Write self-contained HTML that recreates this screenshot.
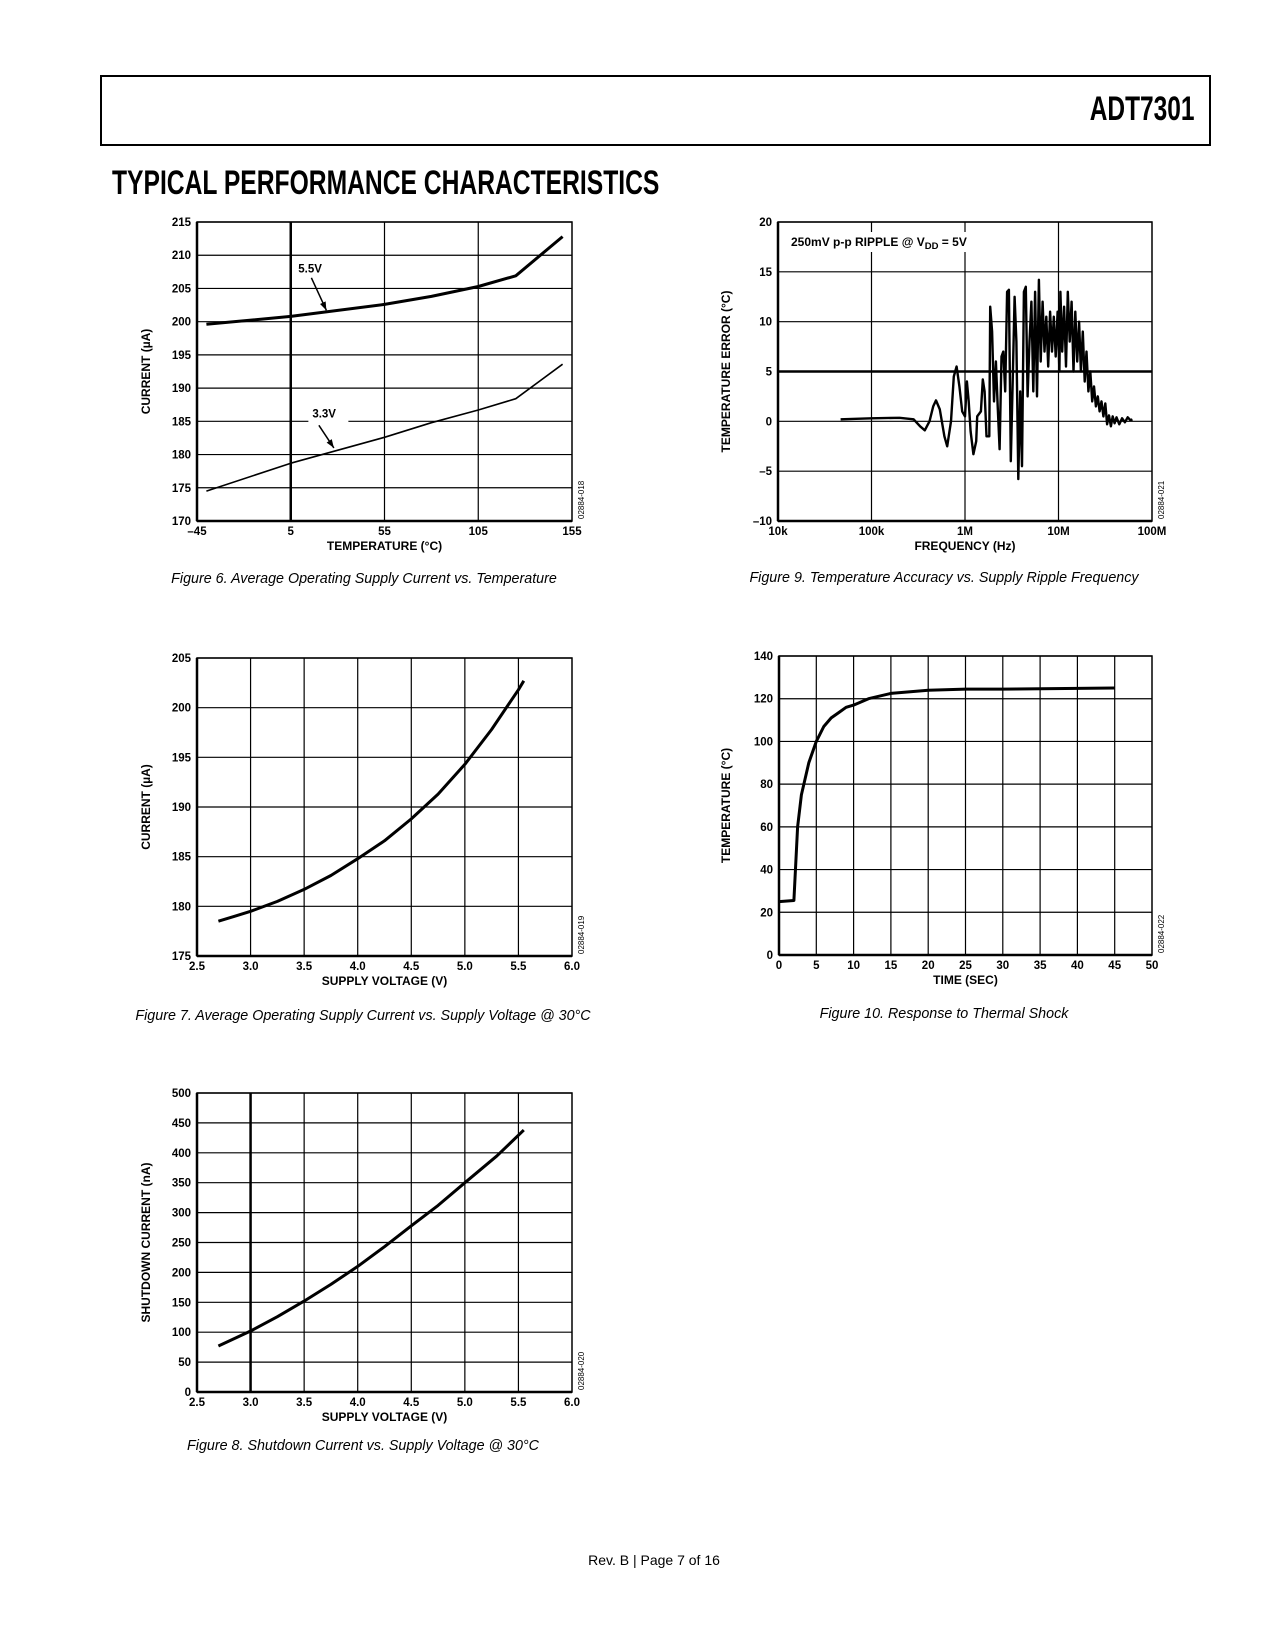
<!DOCTYPE html>
<html><head><meta charset="utf-8"><style>
html,body{margin:0;padding:0;background:#fff;}
body{width:1275px;height:1650px;position:relative;overflow:hidden;font-family:"Liberation Sans",sans-serif;}
.hdr{position:absolute;left:100px;top:75px;width:1111px;height:71px;border:2px solid #000;box-sizing:border-box;}
.pn{position:absolute;right:14px;top:13px;font-size:34px;font-weight:bold;transform:scaleX(0.72);transform-origin:right top;letter-spacing:0px;}
.ttl{position:absolute;left:112px;top:164px;font-size:34px;font-weight:bold;transform:scaleX(0.725);transform-origin:left top;white-space:nowrap;}
.cap{position:absolute;font-style:italic;font-size:14.3px;white-space:nowrap;transform:translateX(-50%);}
.foot{position:absolute;left:654px;top:1552px;font-size:14px;transform:translateX(-50%);white-space:nowrap;}
svg text{font-family:"Liberation Sans",sans-serif;}
</style></head><body>
<div class="hdr"><div class="pn">ADT7301</div></div>
<div class="ttl">TYPICAL PERFORMANCE CHARACTERISTICS</div>
<div class="cap" style="left:364px;top:571px">Figure 6. Average Operating Supply Current vs. Temperature</div>
<div class="cap" style="left:944px;top:570px">Figure 9. Temperature Accuracy vs. Supply Ripple Frequency</div>
<div class="cap" style="left:363px;top:1008px">Figure 7. Average Operating Supply Current vs. Supply Voltage @ 30°C</div>
<div class="cap" style="left:944px;top:1006px">Figure 10. Response to Thermal Shock</div>
<div class="cap" style="left:363px;top:1438px">Figure 8. Shutdown Current vs. Supply Voltage @ 30°C</div>
<div class="foot">Rev. B | Page 7 of 16</div>
<svg id="svg" width="1275" height="1650" style="position:absolute;left:0;top:0"></svg>
<script>
// Figure 6
const f6x55 = [-40, 5, 55, 80, 105, 125, 150];
const f6y55 = [199.6, 200.8, 202.6, 203.8, 205.3, 206.9, 212.8];
const f6x33 = [-40, 5, 55, 80, 105, 125, 150];
const f6y33 = [174.5, 178.7, 182.6, 184.8, 186.7, 188.4, 193.6];
const f6xTicks = [-45, 5, 55, 105, 155];
const f6xLabels = ["–45", "5", "55", "105", "155"];
const f6yTicks = [170, 175, 180, 185, 190, 195, 200, 205, 210, 215];
// Figure 9 (x in log10 Hz)
const f9x = [4.67,5.0,5.3,5.45,5.52,5.57,5.62,5.66,5.69,5.73,5.78,5.81,5.85,5.88,5.91,5.94,5.97,6.0,6.02,6.04,6.06,6.09,6.12,6.13,6.17,6.19,6.21,6.23,6.26,6.27,6.29,6.31,6.33,6.35,6.37,6.39,6.41,6.43,6.45,6.47,6.49,6.51,6.53,6.55,6.57,6.59,6.61,6.63,6.65,6.67,6.69,6.71,6.73,6.75,6.77,6.79,6.81,6.83,6.85,6.87,6.89,6.91,6.93,6.95,6.97,6.99,7.01,7.02,7.04,7.06,7.08,7.10,7.12,7.14,7.16,7.18,7.20,7.22,7.24,7.26,7.28,7.30,7.32,7.34,7.36,7.38,7.40,7.42,7.44,7.46,7.48,7.50,7.52,7.54,7.56,7.58,7.60,7.62,7.65,7.68,7.71,7.74,7.77,7.79];
const f9y = [0.2,0.3,0.35,0.2,-0.5,-0.9,0,1.5,2.1,1.2,-1.5,-2.5,0,4.5,5.5,3.5,1,0.5,4,2,-1,-3.3,-2,0.5,1,4.2,3,-1.5,-1.5,11.5,9,2,6,1.5,-2.8,6.5,7,3,13,13.2,-4,4,12.5,8,-5.8,3,-4.5,13,13.5,2.5,8,12,3,13,2.5,14.2,6,12,7,10.5,5.5,11,7,10.5,6.5,11,5,13,7,11.5,5.5,13,8,12,5,11,6,10,5,9,4,7,3,5,2,3.5,1.5,2.5,1,2,0.5,1.8,-0.3,0.6,-0.5,0.5,-0.2,0.4,-0.3,0.3,-0.1,0.4,0.1,0.2];
const f9xTicks = [4, 5, 6, 7, 8];
const f9xLabels = ["10k", "100k", "1M", "10M", "100M"];
const f9yTicks = [-10, -5, 0, 5, 10, 15, 20];
const f9yLabels = ["–10", "–5", "0", "5", "10", "15", "20"];
// Figure 7
const f7x = [2.7, 2.85, 3.0, 3.25, 3.5, 3.75, 4.0, 4.25, 4.5, 4.75, 5.0, 5.25, 5.5, 5.55];
const f7y = [178.5, 179.0, 179.5, 180.5, 181.7, 183.1, 184.8, 186.6, 188.8, 191.3, 194.3, 197.8, 201.8, 202.7];
const f7xTicks = [2.5, 3.0, 3.5, 4.0, 4.5, 5.0, 5.5, 6.0];
const f7yTicks = [175, 180, 185, 190, 195, 200, 205];
// Figure 8
const f8x = [2.7, 3.0, 3.25, 3.5, 3.75, 4.0, 4.25, 4.5, 4.75, 5.0, 5.3, 5.55];
const f8y = [77, 102, 126, 152, 180, 210, 243, 278, 312, 350, 395, 438];
const f8xTicks = [2.5, 3.0, 3.5, 4.0, 4.5, 5.0, 5.5, 6.0];
const f8yTicks = [0, 50, 100, 150, 200, 250, 300, 350, 400, 450, 500];
// Figure 10
const f10x = [0, 2, 2.5, 3, 4, 5, 6, 7, 8, 9, 10, 12, 15, 20, 25, 30, 45];
const f10y = [25, 25.5, 60, 75, 90, 100, 107, 111, 113.5, 116, 117, 120, 122.5, 124, 124.5, 124.5, 125];
const f10xTicks = [0, 5, 10, 15, 20, 25, 30, 35, 40, 45, 50];
const f10yTicks = [0, 20, 40, 60, 80, 100, 120, 140];

const NS = "http://www.w3.org/2000/svg";
const svg = document.getElementById('svg');
function mk(tag, attrs, parent) {
  const e = document.createElementNS(NS, tag);
  for (const k in attrs) e.setAttribute(k, attrs[k]);
  (parent || svg).appendChild(e);
  return e;
}
function chart(o) {
  const g = mk('g', {});
  
  
  const sx = v => o.L + (v - o.x0) / (o.x1 - o.x0) * (o.R - o.L);
  const sy = v => o.B - (v - o.y0) / (o.y1 - o.y0) * (o.B - o.T);
  o.sx = sx; o.sy = sy;
  o.xGrid.forEach(v => {
    const l = mk('line', {x1: sx(v), x2: sx(v), y1: o.T, y2: o.B, stroke: '#000', 'stroke-width': 1.2}, g);
    
    
  });
  o.yTicks.forEach(v => {
    const l = mk('line', {x1: o.L, x2: o.R, y1: sy(v), y2: sy(v), stroke: '#000', 'stroke-width': 1.2}, g);
    
    
  });
  const fr = mk('rect', {x: o.L, y: o.T, width: o.R - o.L, height: o.B - o.T, fill: 'none', stroke: '#000', 'stroke-width': 1.5}, g);
  
  
  const ax = mk('line', {x1: o.L, x2: o.R, y1: o.B, y2: o.B, stroke: '#000', 'stroke-width': 2.5}, g);
  
  
  const ay = mk('line', {x1: o.L, x2: o.L, y1: o.T, y2: o.B, stroke: '#000', 'stroke-width': 2.5}, g);
  
  
  o.yTicks.forEach((v, i) => {
    const t = mk('text', {x: o.L - 6, y: sy(v) + 4, 'text-anchor': 'end', 'font-size': 11.5, 'font-weight': 'bold'}, g);
    t.textContent = o.yLabels ? o.yLabels[i] : String(v);
    
    
  });
  o.xTicks.forEach((v, i) => {
    const t = mk('text', {x: sx(v), y: o.B + 14, 'text-anchor': 'middle', 'font-size': 11.5, 'font-weight': 'bold'}, g);
    t.textContent = o.xLabels ? o.xLabels[i] : v.toFixed(o.xDec || 0);
    
    
  });
  const xt = mk('text', {x: (o.L + o.R) / 2, y: o.B + 29, 'text-anchor': 'middle', 'font-size': 12, 'font-weight': 'bold'}, g);
  xt.textContent = o.xTitle;
  
  
  const yc = (o.T + o.B) / 2;
  const yt = mk('text', {x: o.yTx, y: yc, 'text-anchor': 'middle', 'font-size': 12, 'font-weight': 'bold', transform: `rotate(-90 ${o.yTx} ${yc})`}, g);
  yt.textContent = o.yTitle;
  
  
  const idx = o.R + 12;
  const id = mk('text', {x: idx, y: o.B - 2, 'font-size': 8, transform: `rotate(-90 ${idx} ${o.B - 2})`}, g);
  id.textContent = o.id;
  
  
  o.g = g;
  return o;
}
function series(o, xs, ys, w, name) {
  const pts = xs.map((x, i) => o.sx(x).toFixed(1) + ',' + o.sy(ys[i]).toFixed(1)).join(' ');
  const p = mk('polyline', {points: pts, fill: 'none', stroke: '#000', 'stroke-width': w, 'stroke-linejoin': 'round'}, o.g);
  
  
  return p;
}
function thick(o, x1, y1, x2, y2) {
  const l = mk('line', {x1: x1, y1: y1, x2: x2, y2: y2, stroke: '#000', 'stroke-width': 2.5}, o.g);
  
  
}
function arrow(o, x1, y1, x2, y2) {
  const l = mk('line', {x1: x1, y1: y1, x2: x2, y2: y2, stroke: '#000', 'stroke-width': 1.5}, o.g);
  
  
  const a = Math.atan2(y2 - y1, x2 - x1), s = 9;
  const p = [[x2, y2], [x2 - s * Math.cos(a - 0.35), y2 - s * Math.sin(a - 0.35)], [x2 - s * Math.cos(a + 0.35), y2 - s * Math.sin(a + 0.35)]];
  const h = mk('polygon', {points: p.map(q => q.join(',')).join(' '), fill: '#000'}, o.g);
  
  
}
function label(o, x, y, txt, name) {
  const t = mk('text', {x: x, y: y, 'font-size': 11.5, 'font-weight': 'bold'}, o.g);
  t.textContent = txt;
  
  
  return t;
}

// Figure 6
const c6 = chart({name: 'figure-6-chart', L: 197, R: 572, T: 222, B: 521, x0: -45, x1: 155, y0: 170, y1: 215,
  xGrid: [5, 55, 105], xTicks: f6xTicks, xLabels: f6xLabels, yTicks: f6yTicks,
  xTitle: 'TEMPERATURE (°C)', yTitle: 'CURRENT (µA)', yTx: 150, id: '02884-018'});
thick(c6, c6.sx(5), 222, c6.sx(5), 521);
const bg = mk('rect', {x: c6.sx(16) - 3, y: c6.sy(185) - 5, width: 40, height: 10, fill: '#fff'}, c6.g);


series(c6, f6x55, f6y55, 3, 'series-5.5v');
series(c6, f6x33, f6y33, 1.6, 'series-3.3v');
label(c6, c6.sx(9), c6.sy(208) + 4, '5.5V', 'label-5.5v');
arrow(c6, c6.sx(16), c6.sy(206.6), c6.sx(24), c6.sy(201.7));
label(c6, c6.sx(16.5), c6.sy(186.2) + 4, '3.3V', 'label-3.3v');
arrow(c6, c6.sx(20), c6.sy(184.4), c6.sx(28), c6.sy(181));

// Figure 9
const c9 = chart({name: 'figure-9-chart', L: 778, R: 1152, T: 222, B: 521, x0: 4, x1: 8, y0: -10, y1: 20,
  xGrid: [5, 6, 7], xTicks: f9xTicks, xLabels: f9xLabels, yTicks: f9yTicks, yLabels: f9yLabels,
  xTitle: 'FREQUENCY (Hz)', yTitle: 'TEMPERATURE ERROR (°C)', yTx: 730, id: '02884-021'});
thick(c9, 778, c9.sy(5), 1152, c9.sy(5));
const abg = mk('rect', {x: 788, y: 232, width: 186, height: 20, fill: '#fff'}, c9.g);


const ann = mk('text', {x: 791, y: 246, 'font-size': 12, 'font-weight': 'bold'}, c9.g);
ann.innerHTML = '250mV p-p RIPPLE @ V<tspan font-size="9.5" dy="3">DD</tspan><tspan dy="-3"> = 5V</tspan>';


series(c9, f9x, f9y, 2.4, 'temperature-error-series');

// Figure 7
const c7 = chart({name: 'figure-7-chart', L: 197, R: 572, T: 658, B: 956, x0: 2.5, x1: 6.0, y0: 175, y1: 205,
  xGrid: [3, 3.5, 4, 4.5, 5, 5.5], xTicks: f7xTicks, xDec: 1, yTicks: f7yTicks,
  xTitle: 'SUPPLY VOLTAGE (V)', yTitle: 'CURRENT (µA)', yTx: 150, id: '02884-019'});
series(c7, f7x, f7y, 3, 'current-series');

// Figure 10
const c10 = chart({name: 'figure-10-chart', L: 779, R: 1152, T: 656, B: 955, x0: 0, x1: 50, y0: 0, y1: 140,
  xGrid: [5, 10, 15, 20, 25, 30, 35, 40, 45], xTicks: f10xTicks, yTicks: f10yTicks,
  xTitle: 'TIME (SEC)', yTitle: 'TEMPERATURE (°C)', yTx: 730, id: '02884-022'});
series(c10, f10x, f10y, 3, 'temperature-series');

// Figure 8
const c8 = chart({name: 'figure-8-chart', L: 197, R: 572, T: 1093, B: 1392, x0: 2.5, x1: 6.0, y0: 0, y1: 500,
  xGrid: [3, 3.5, 4, 4.5, 5, 5.5], xTicks: f8xTicks, xDec: 1, yTicks: f8yTicks,
  xTitle: 'SUPPLY VOLTAGE (V)', yTitle: 'SHUTDOWN CURRENT (nA)', yTx: 150, id: '02884-020'});
thick(c8, c8.sx(3), 1093, c8.sx(3), 1392);
series(c8, f8x, f8y, 3, 'shutdown-current-series');
</script>
</body></html>
